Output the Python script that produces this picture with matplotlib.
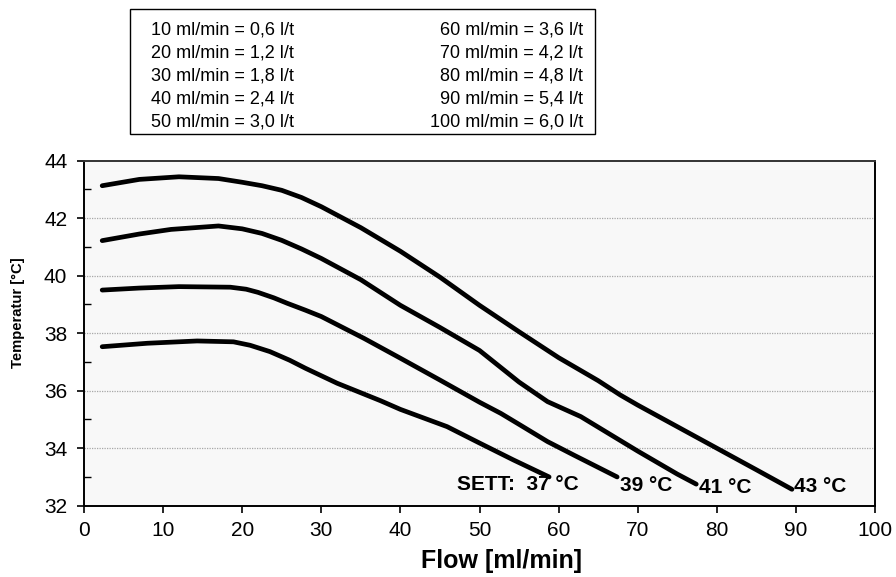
import matplotlib
matplotlib.use("Agg")
import matplotlib.pyplot as plt
from matplotlib.patches import Rectangle
from matplotlib.ticker import MultipleLocator

plt.rcParams['font.family'] = ['Liberation Sans', 'DejaVu Sans']

# ---- data ----
flow_43 = [2.3, 7, 12, 17, 20, 22.5, 25, 27.5, 30, 35, 40, 45, 50, 55, 60, 65, 67.8, 70, 75, 80, 85, 89.5]
temp_43 = [43.13, 43.35, 43.44, 43.38, 43.25, 43.13, 42.97, 42.72, 42.4, 41.67, 40.85, 39.95, 38.97, 38.05, 37.15, 36.35, 35.85, 35.5, 34.75, 34.0, 33.25, 32.57]

flow_41 = [2.3, 7, 11, 17, 20, 22.5, 25, 27.5, 30, 35, 40, 45, 50, 55, 58.6, 62.8, 67, 70, 75, 77.4]
temp_41 = [41.22, 41.45, 41.61, 41.73, 41.63, 41.47, 41.23, 40.93, 40.6, 39.86, 38.97, 38.2, 37.4, 36.3, 35.62, 35.1, 34.4, 33.9, 33.1, 32.75]

flow_39 = [2.3, 7, 12, 18.5, 20.5, 22, 24, 25.7, 28, 30, 35.4, 40, 45, 50, 52.7, 55, 58.6, 62, 67.4]
temp_39 = [39.5, 39.57, 39.62, 39.6, 39.53, 39.42, 39.23, 39.04, 38.8, 38.58, 37.82, 37.13, 36.37, 35.6, 35.21, 34.83, 34.23, 33.75, 33.0]

flow_37 = [2.3, 8, 14.3, 18.9, 21, 23.5, 26, 28, 32, 37.5, 40, 45.9, 50, 54.3, 58.8]
temp_37 = [37.53, 37.65, 37.73, 37.7, 37.58, 37.36, 37.06, 36.78, 36.26, 35.65, 35.35, 34.75, 34.18, 33.59, 33.0]

series = [(flow_37, temp_37), (flow_39, temp_39), (flow_41, temp_41), (flow_43, temp_43)]

end_labels = ["SETT:  37 °C", "39 °C", "41 °C", "43 °C"]
label_x = [47.2, 67.7, 77.7, 89.7]
label_y = [32.75, 32.72, 32.64, 32.66]

legend_left = ["10 ml/min = 0,6 l/t", "20 ml/min = 1,2 l/t", "30 ml/min = 1,8 l/t",
               "40 ml/min = 2,4 l/t", "50 ml/min = 3,0 l/t"]
legend_right = ["60 ml/min = 3,6 l/t", "70 ml/min = 4,2 l/t", "80 ml/min = 4,8 l/t",
                "90 ml/min = 5,4 l/t", "100 ml/min = 6,0 l/t"]

# ---- figure ----
W, H = 896, 577
fig = plt.figure(figsize=(W / 100, H / 100), dpi=100)
ax = fig.add_axes([84 / W, 1 - 505.7 / H, (875 - 84) / W, (505.7 - 160.7) / H])
ax.set_facecolor('#f8f8f8')

for fx, ty in series:
    ax.plot(fx, ty, color='black', lw=3.4, solid_capstyle='round', solid_joinstyle='round', zorder=3)

for txt, x, y in zip(end_labels, label_x, label_y):
    ax.text(x, y, txt, fontsize=15, fontweight='bold', ha='left', va='center', zorder=4)

ax.set_xlim(0, 100)
ax.set_ylim(32, 44)
ax.xaxis.set_major_locator(MultipleLocator(10))
ax.yaxis.set_major_locator(MultipleLocator(2))
ax.yaxis.set_minor_locator(MultipleLocator(1))

for y in [34, 36, 38, 40, 42]:
    ax.axhline(y, color='#a8a8a8', lw=0.9, ls=(0, (1, 1)), zorder=1)

ax.tick_params(axis='x', which='major', direction='out', length=5, width=1.2, labelsize=15, pad=6)
ax.tick_params(axis='y', which='major', direction='out', length=5, width=1.2, labelsize=15, pad=7)
ax.tick_params(axis='y', which='minor', direction='in', length=5, width=1.0)
for s in ax.spines.values():
    s.set_linewidth(1.4)
    s.set_color('black')
ax.spines['top'].set_color('#333333')

ax.set_xlabel('Flow [ml/min]', fontsize=18, fontweight='bold')
ax.xaxis.set_label_coords(0.528, -0.16)
ax.xaxis.label.set_va('center')
ax.set_ylabel('Temperatur [°C]', fontsize=10.7, fontweight='bold')
ax.yaxis.set_label_coords(-0.083, 0.5585)
ax.yaxis.label.set_va('center')

# conversion legend box
bx0, bx1, by0, by1 = 130, 595, 9, 134
fig.patches.append(Rectangle((bx0 / W, 1 - by1 / H), (bx1 - bx0) / W, (by1 - by0) / H,
                             transform=fig.transFigure, fill=False, edgecolor='black', lw=1.0))
row_y = [30, 53, 76, 99, 122]
for i, (l, r) in enumerate(zip(legend_left, legend_right)):
    fig.text(151 / W, 1 - row_y[i] / H, l, fontsize=13, ha='left', va='center')
    fig.text(583 / W, 1 - row_y[i] / H, r, fontsize=13, ha='right', va='center')

fig.savefig('out.png', dpi=100)
